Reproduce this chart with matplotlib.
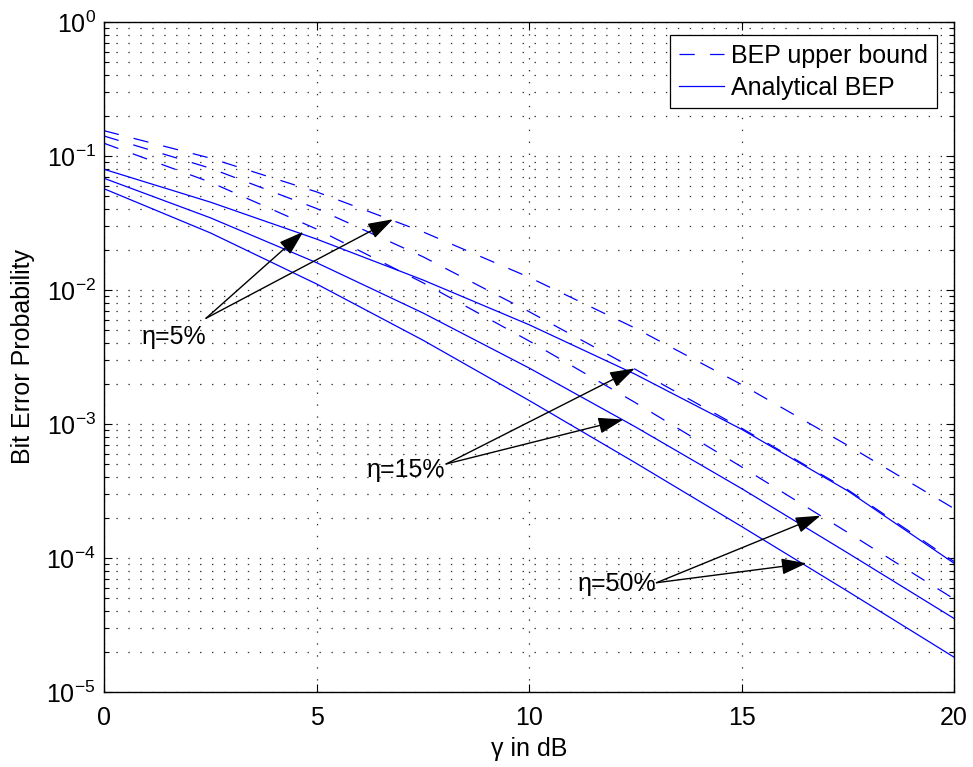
import matplotlib
matplotlib.use("Agg")
import matplotlib.pyplot as plt
import numpy as np
from matplotlib.ticker import LogLocator, FixedLocator, NullFormatter

plt.rcParams['font.family'] = ['Liberation Sans', 'DejaVu Sans']
plt.rcParams['mathtext.fontset'] = 'custom'
plt.rcParams['mathtext.rm'] = 'Liberation Sans'
plt.rcParams['mathtext.it'] = 'Liberation Sans:italic'
plt.rcParams['mathtext.bf'] = 'Liberation Sans:bold'
plt.rcParams['lines.scale_dashes'] = False

# ---- data ----
snr_db = [0, 2.5, 5, 7.5, 10, 12.5, 15, 17.5, 20]

# BEP upper bound (dashed)
bound_a = [1.545e-1, 9.64e-2, 5.40e-2, 2.72e-2, 1.245e-2, 5.19e-3, 1.97e-3, 6.92e-4, 2.34e-4]
bound_b = [1.41e-1, 8.11e-2, 4.06e-2, 1.774e-2, 6.90e-3, 2.56e-3, 9.31e-4, 3.23e-4, 9.42e-5]
bound_c = [1.245e-1, 6.38e-2, 2.85e-2, 1.135e-2, 4.17e-3, 1.445e-3, 4.79e-4, 1.55e-4, 4.95e-5]

# Analytical BEP (solid)
anal_a = [7.96e-2, 4.53e-2, 2.40e-2, 1.19e-2, 5.51e-3, 2.35e-3, 9.14e-4, 3.17e-4, 9.14e-5]
anal_b = [6.82e-2, 3.46e-2, 1.60e-2, 6.75e-3, 2.62e-3, 9.53e-4, 3.30e-4, 1.09e-4, 3.54e-5]
anal_c = [5.70e-2, 2.67e-2, 1.11e-2, 4.23e-3, 1.50e-3, 5.14e-4, 1.72e-4, 5.64e-5, 1.82e-5]

legend_labels = ['BEP upper bound', 'Analytical BEP']

# annotations: label, text anchor (x, y), arrow tail, arrow tips
ann_labels = ['\u03b7=5%', '\u03b7=15%', '\u03b7=50%']
ann_text_pos = [(2.40, 4.46e-3), (8.02, 4.54e-4), (12.99, 6.4e-5)]
ann_tails = [(2.40, 6.15e-3), (8.05, 5.03e-4), (13.0, 6.54e-5)]
ann_tips = [[(4.69, 0.0272), (6.80, 0.0337)],
            [(12.49, 2.6e-3), (12.22, 1.08e-3)],
            [(16.86, 2.07e-4), (16.53, 9.13e-5)]]

xticks = [0, 5, 10, 15, 20]

FS = 18

# ---- figure ----
fig = plt.figure(figsize=(9.73, 7.67), dpi=100)
ax = fig.add_axes([104/973, 75/767, 850/973, 670/767])

blue = (0, 0, 1)
lw = 0.9
for i, b in enumerate([bound_a, bound_b, bound_c]):
    ax.semilogy(snr_db, b, color=blue, lw=lw, dashes=(11, 11),
                label=legend_labels[0] if i == 0 else None)
for i, a in enumerate([anal_a, anal_b, anal_c]):
    ax.semilogy(snr_db, a, color=blue, lw=lw, linestyle='-',
                label=legend_labels[1] if i == 0 else None)

ax.set_xlim(0, 20)
ax.set_ylim(1e-5, 1e0)
ax.xaxis.set_major_locator(FixedLocator(xticks))
ax.yaxis.set_major_locator(LogLocator(base=10, numticks=10))
ax.yaxis.set_minor_locator(LogLocator(base=10, subs=np.arange(2, 10), numticks=20))
ax.yaxis.set_minor_formatter(NullFormatter())

grid_kw = dict(color='0.2', lw=0.9)
ax.grid(True, which='major', axis='both', **grid_kw)
ax.grid(True, which='minor', axis='y', **grid_kw)
for gl in ax.get_xgridlines() + ax.get_ygridlines():
    gl.set_dashes((1, 7.6))
for t in ax.yaxis.get_minor_ticks():
    t.gridline.set_dashes((1, 7.6))

ax.tick_params(axis='both', which='both', direction='in', top=True, right=True,
               labelsize=FS, colors='k')
ax.tick_params(which='major', length=6, width=0.8)
ax.tick_params(which='minor', length=3.5, width=0.8)
ax.tick_params(axis='x', pad=10)
ax.tick_params(axis='y', pad=6)
for s in ax.spines.values():
    s.set_linewidth(1.0)
    s.set_color('k')

ax.set_xlabel('\u03b3 in dB', fontsize=FS, labelpad=5)
ax.set_ylabel('Bit Error Probability', fontsize=FS, labelpad=8)

leg = ax.legend(loc='upper right', bbox_to_anchor=(0.98, 0.980), borderaxespad=0,
                fontsize=FS, fancybox=False, framealpha=1, edgecolor='k',
                handlelength=1.8, handletextpad=0.3, borderpad=0.35, labelspacing=0.3)
leg.get_frame().set_linewidth(0.9)

for lab, tpos, tail, tips in zip(ann_labels, ann_text_pos, ann_tails, ann_tips):
    ax.text(tpos[0], tpos[1], lab, ha='right', va='center', fontsize=FS, color='k')
    for tip in tips:
        ax.annotate('', xy=tip, xytext=tail,
                    arrowprops=dict(arrowstyle='-|>,head_length=1.55,head_width=0.5',
                                    mutation_scale=10, color='k', lw=1.0,
                                    shrinkA=0, shrinkB=0))

fig.savefig('out.png', dpi=100)
